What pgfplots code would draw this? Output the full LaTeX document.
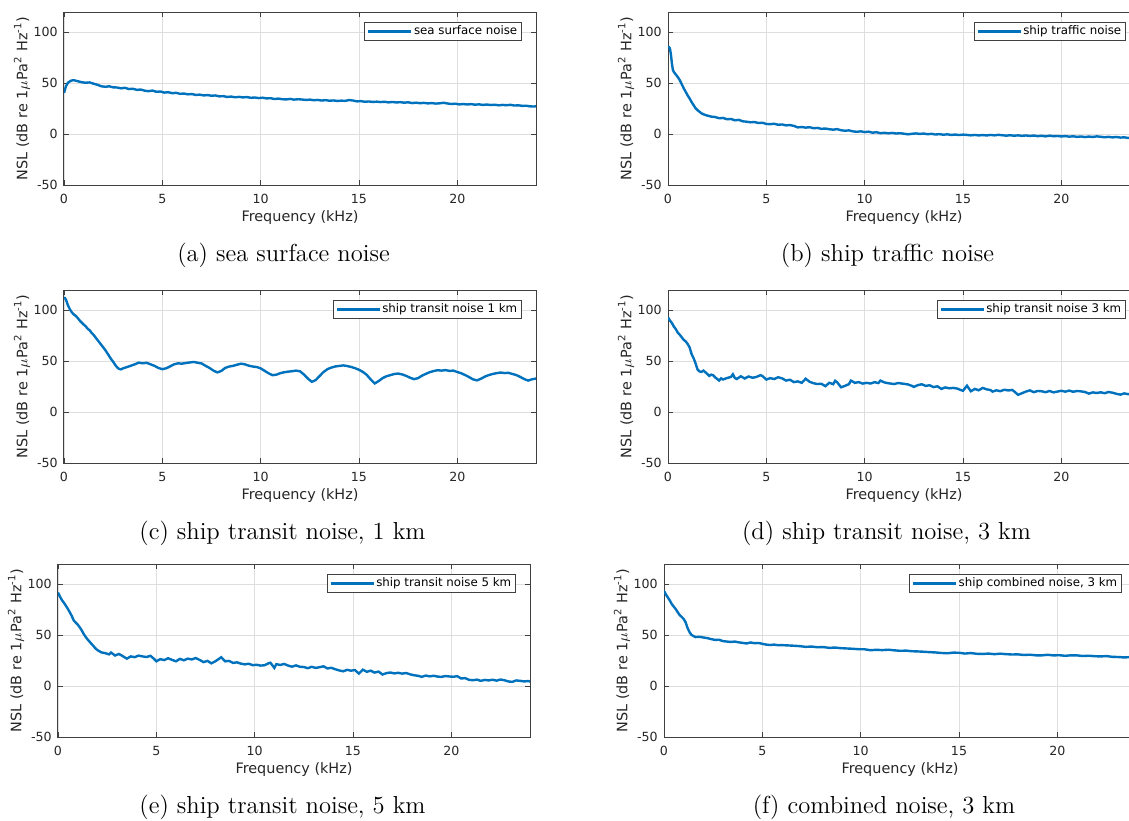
\documentclass[border=0pt]{standalone}
\usepackage{pgfplots}
\pgfplotsset{compat=1.18}
\usepackage{fontspec}
\newfontfamily\axfont{DejaVu Sans}
\definecolor{mblue}{rgb}{0,0.447,0.741}
\definecolor{maxis}{rgb}{0.15,0.15,0.15}
\definecolor{mframe}{rgb}{0.25,0.25,0.25}
\definecolor{mgrid}{rgb}{0.87,0.87,0.87}
\pgfplotsset{
  mstyle/.style={
    scale only axis, width=236pt, height=86.5pt,
    anchor=south west,
    xmin=0, xmax=24, ymin=-50, ymax=120,
    xtick={0,5,10,15,20}, ytick={-50,0,50,100},
    grid=major, major grid style={mgrid, line width=0.4pt},
    axis line style={mframe, line width=0.5pt},
    tick style={mframe, line width=0.45pt},
    tick align=inside, xtick pos=both, ytick pos=both,
    xticklabel pos=lower, yticklabel pos=left,
    major tick length=2.5pt,
    tick label style={font=\axfont\fontsize{6.3}{7}\selectfont, text=maxis},
    /pgf/number format/assume math mode=true,
    xticklabel style={anchor=base, yshift=-9.3pt},
    yticklabel style={anchor=east, inner sep=0pt, xshift=-3pt},
    label style={font=\axfont\fontsize{7.2}{8}\selectfont, text=maxis},
    xlabel={Frequency (kHz)},
    ylabel={NSL (dB re 1$\mu$Pa\textsuperscript{2} Hz\textsuperscript{-1})},
    x label style={at={(axis description cs:0.5,0)}, anchor=base, yshift=-18pt},
    y label style={at={(axis description cs:-0.089,0.5)}, anchor=center},
    legend style={at={(1,1)}, anchor=north east, xshift=-7.2pt, yshift=-5.2pt,
      draw=mframe, line width=0.4pt, fill=white,
      font=\axfont\fontsize{5.9}{6.5}\selectfont, inner xsep=1.2pt, inner ysep=0.6pt,
      nodes={inner sep=0.8pt}},
    legend cell align=left,
    legend image code/.code={\draw[##1, line width=1.2pt] (0pt,0pt) -- (21.5pt,0pt);},
  },
  mline/.style={mblue, line width=1.2pt},
}
\begin{document}
\begin{tikzpicture}
% (a)
\begin{axis}[mstyle, at={(32pt,-92.5pt)}]
\addplot[mline] coordinates {(0,40.5) (0.1,47) (0.2,50.5) (0.35,52.5) (0.5,53) (0.7,52) (0.9,51) (1.1,50.5) (1.3,50.8) (1.5,49.6) (1.7,48.5) (1.9,47) (2.1,46.5) (2.3,47) (2.5,46) (2.7,45.8) (2.9,45) (3.1,45.5) (3.3,44.3) (3.5,44.6) (3.7,43.5) (3.9,43.8) (4.1,42.7) (4.3,42.2) (4.5,42.8) (4.7,41.6) (4.9,41.9) (5.1,40.8) (5.3,41.2) (5.5,40.2) (5.7,40.6) (5.9,39.6) (6.1,39.9) (6.3,39.1) (6.5,39.4) (6.7,38.5) (6.9,38.8) (7.1,38) (7.3,38.4) (7.5,37.7) (7.7,38) (7.9,37.1) (8.1,37.3) (8.3,36.5) (8.5,36.9) (8.7,36.2) (8.9,36.6) (9.1,36.1) (9.3,36.4) (9.5,35.7) (9.7,36) (9.9,35.4) (10.1,35.8) (10.3,35.1) (10.5,35.3) (10.7,34.5) (10.9,34.9) (11.1,34.3) (11.3,34.1) (11.5,34.6) (11.7,33.9) (11.9,34.3) (12.1,34) (12.3,33.6) (12.5,33.9) (12.7,33.3) (12.9,33.6) (13.1,33) (13.3,33.4) (13.5,32.8) (13.7,33.1) (13.9,32.6) (14.1,32.9) (14.3,32.7) (14.5,33.5) (14.7,33) (14.9,32.2) (15.1,32.4) (15.3,31.8) (15.5,32.1) (15.7,31.6) (15.9,31.9) (16.1,31.5) (16.3,31.8) (16.5,31.2) (16.7,31.6) (16.9,31.1) (17.1,31.4) (17.3,30.9) (17.5,31.3) (17.7,30.5) (17.9,30.9) (18.1,30.4) (18.3,30.7) (18.5,30.2) (18.7,30.5) (18.9,30) (19.1,30.3) (19.3,30.8) (19.5,30.1) (19.7,29.6) (19.9,29.9) (20.1,29.2) (20.3,29.6) (20.5,29.1) (20.7,29.5) (20.9,28.9) (21.1,29.3) (21.3,28.7) (21.5,29.1) (21.7,28.6) (21.9,28.9) (22.1,28.3) (22.3,28.7) (22.5,28.4) (22.7,28.8) (22.9,28.1) (23.1,28.3) (23.3,27.8) (23.5,27.9) (23.7,27.3) (23.9,27.1) (24,27.5)};
\addlegendentry{sea surface noise}
\end{axis}
% (b)
\begin{axis}[mstyle, at={(334pt,-92.5pt)}]
\addplot[mline] coordinates {(0,86) (0.05,85.5) (0.1,84) (0.15,78) (0.2,69) (0.25,63) (0.3,61) (0.4,58.5) (0.5,56) (0.6,53) (0.7,49) (0.8,45) (0.9,41.5) (1.0,38) (1.1,35) (1.2,31.5) (1.3,28.5) (1.4,25.5) (1.5,23.5) (1.6,22) (1.7,20.5) (1.8,19.5) (1.9,18.8) (2.0,18.2) (2.2,17.2) (2.4,16.8) (2.6,15.6) (2.8,15.9) (3.0,14.6) (3.2,14.9) (3.4,13.6) (3.6,14) (3.8,12.6) (4.0,12.2) (4.2,11.6) (4.4,11.9) (4.6,10.9) (4.8,11.2) (5.0,10) (5.2,9.8) (5.4,10.2) (5.6,9.2) (5.8,9.5) (6.0,8.6) (6.2,8.9) (6.4,8.1) (6.6,6.6) (6.8,7) (7.0,6.4) (7.2,6.8) (7.4,5.8) (7.6,6.1) (7.8,5.2) (8.0,5.5) (8.2,4.8) (8.4,4.4) (8.6,4.9) (8.8,3.8) (9.0,3.3) (9.2,3.7) (9.4,2.7) (9.6,2.3) (9.8,2.7) (10.0,2) (10.2,2.4) (10.4,1.4) (10.6,1.9) (10.8,0.9) (11.0,1.3) (11.2,0.8) (11.4,1.2) (11.6,0.6) (11.8,0.9) (12.0,0.4) (12.2,-0.2) (12.4,0.3) (12.6,0.7) (12.8,0.2) (13.0,0.6) (13.2,-0.1) (13.4,0.3) (13.6,-0.4) (13.8,0) (14.0,-0.6) (14.2,-0.2) (14.4,-0.8) (14.6,-0.4) (14.8,-0.9) (15.0,-0.5) (15.2,-0.8) (15.4,-1.2) (15.6,-0.8) (15.8,-1.3) (16.0,-0.9) (16.2,-1.3) (16.4,-0.8) (16.6,-1.2) (16.8,-0.7) (17.0,-1.1) (17.2,-1.5) (17.4,-1.1) (17.6,-1.6) (17.8,-1.2) (18.0,-1.7) (18.2,-1.3) (18.4,-1.8) (18.6,-1.4) (18.8,-2) (19.0,-1.6) (19.2,-2.2) (19.4,-1.5) (19.6,-2.1) (19.8,-1.8) (20.0,-2.3) (20.2,-1.9) (20.4,-2.5) (20.6,-2.1) (20.8,-2.7) (21.0,-2.3) (21.2,-2.9) (21.4,-2.4) (21.6,-2.8) (21.8,-2.2) (22.0,-2.6) (22.2,-3.1) (22.4,-2.7) (22.6,-3.2) (22.8,-2.8) (23.0,-3.4) (23.2,-3.1) (23.4,-3.8) (23.6,-3.5) (23.8,-4) (24,-3.8)};
\addlegendentry{ship traffic noise}
\end{axis}
% (c)
\begin{axis}[mstyle, at={(32pt,-231.5pt)}]
\addplot[mline] coordinates {(0,112) (0.05,112) (0.1,110.5) (0.2,105) (0.3,101) (0.4,98) (0.5,96) (0.6,94.5) (0.7,92.5) (0.8,90) (0.9,88) (1.0,86) (1.1,84.5) (1.2,82) (1.3,80.5) (1.4,78) (1.5,76) (1.6,73.5) (1.7,71) (1.8,68.5) (1.9,66) (2.0,63.5) (2.1,61) (2.2,58) (2.3,55) (2.4,52) (2.5,49.5) (2.6,46.5) (2.7,44) (2.8,42.5) (2.9,42) (3.0,43) (3.2,44.3) (3.4,45.6) (3.6,47) (3.8,48.6) (4.0,48) (4.2,48.5) (4.4,47) (4.6,45.5) (4.8,43.4) (5.0,42.2) (5.2,43.1) (5.4,45) (5.6,47) (5.8,48) (6.0,47.6) (6.2,48.3) (6.4,48.8) (6.6,49.3) (6.8,48.5) (7.0,47.8) (7.2,45.5) (7.4,43.4) (7.6,40.8) (7.8,39) (8.0,40.5) (8.2,43.5) (8.4,44.8) (8.6,45.5) (8.8,46.6) (9.0,47.6) (9.2,47) (9.4,45.6) (9.6,44.8) (9.8,44.3) (10.0,43) (10.2,40.6) (10.4,38.2) (10.6,36.3) (10.8,36.8) (11.0,38.3) (11.2,39.2) (11.4,39.8) (11.6,40.2) (11.8,40.8) (12.0,40.1) (12.2,37) (12.4,33) (12.6,29.8) (12.8,31.5) (13.0,35.6) (13.2,39.5) (13.4,42.3) (13.6,43.8) (13.8,44.9) (14.0,45.4) (14.2,45.9) (14.4,45.3) (14.6,44.4) (14.8,43.2) (15.0,41.6) (15.2,39.5) (15.4,36.5) (15.6,32) (15.8,28.2) (16.0,30.5) (16.2,33.4) (16.4,35.3) (16.6,36.4) (16.8,37.5) (17.0,37.9) (17.2,37) (17.4,35.6) (17.6,33.8) (17.8,32.4) (18.0,33.4) (18.2,35.8) (18.4,37.6) (18.6,39.3) (18.8,40.4) (19.0,41.2) (19.2,40.8) (19.4,41.3) (19.6,40.5) (19.8,40.8) (20.0,39.4) (20.2,38.2) (20.4,36.4) (20.6,34.4) (20.8,32.2) (21.0,31.2) (21.2,32.8) (21.4,34.9) (21.6,36.4) (21.8,37.5) (22.0,38.3) (22.2,38.9) (22.4,38.4) (22.6,38.6) (22.8,37.5) (23.0,36.4) (23.2,34.6) (23.4,32.5) (23.6,31) (23.8,32.3) (24,33)};
\addlegendentry{ship transit noise 1 km}
\end{axis}
% (d)
\begin{axis}[mstyle, at={(334pt,-231.5pt)}]
\addplot[mline] coordinates {(0,93) (0.1,90) (0.2,87.5) (0.3,84) (0.4,81.5) (0.5,78) (0.6,76) (0.7,73.5) (0.8,71) (0.9,69.5) (1.0,67) (1.1,63.5) (1.2,57) (1.3,53) (1.4,48) (1.5,42) (1.6,40) (1.7,39.5) (1.8,40.8) (1.9,39.2) (2.0,37.5) (2.1,35.6) (2.2,36.8) (2.3,36.2) (2.4,34.1) (2.5,32.6) (2.6,31) (2.7,33.2) (2.8,32.1) (3.0,33.5) (3.2,34.6) (3.3,37.2) (3.4,33.5) (3.5,32.6) (3.7,35.2) (3.9,33.1) (4.1,35) (4.3,33.8) (4.5,34.6) (4.7,36.3) (4.8,35.5) (5.0,32) (5.2,33.4) (5.4,32.5) (5.6,34.3) (5.8,33.2) (6.0,31) (6.2,31.8) (6.4,29.5) (6.6,30.2) (6.8,28.8) (7.0,32.8) (7.2,29.8) (7.4,28.4) (7.6,27.6) (7.8,27.9) (8.0,25.5) (8.2,28.8) (8.4,27.5) (8.5,30.8) (8.6,29.4) (8.8,24.4) (9.0,25.8) (9.2,27.5) (9.3,31) (9.5,28.8) (9.7,29.5) (9.9,28) (10.1,28.8) (10.3,28.1) (10.5,29.4) (10.7,28.6) (10.8,31) (11.0,29.2) (11.2,28.4) (11.5,27.6) (11.7,28.6) (12.0,27.8) (12.2,27.2) (12.4,25.8) (12.5,24.8) (12.7,26.5) (12.9,27.4) (13.1,25.8) (13.3,26.4) (13.5,24.6) (13.7,25.4) (13.9,22.8) (14.1,24.3) (14.3,23.4) (14.5,23.8) (14.7,23.2) (14.9,21.6) (15.0,21) (15.2,26) (15.4,20.5) (15.6,22.8) (15.8,21.5) (16.0,23.8) (16.2,22.4) (16.4,21.7) (16.5,20.2) (16.7,21.4) (16.9,20.6) (17.1,22) (17.3,21.3) (17.5,21.8) (17.6,20.4) (17.8,17) (18.0,18.6) (18.2,20.2) (18.4,21.4) (18.6,19.6) (18.8,20.8) (19.0,20.5) (19.2,19.6) (19.4,20.8) (19.6,19.4) (19.8,20.2) (20.0,21) (20.2,20.1) (20.4,21.2) (20.6,20) (20.8,20.8) (21.0,20.4) (21.2,19.8) (21.4,18.2) (21.6,19.4) (21.8,18.8) (22.0,19.5) (22.2,18.6) (22.4,19.8) (22.6,19.1) (22.8,18) (23.0,17.2) (23.2,18.4) (23.4,17.6) (23.6,18.3) (23.8,17.5) (24,18)};
\addlegendentry{ship transit noise 3 km}
\end{axis}
% (e)
\begin{axis}[mstyle, at={(29pt,-368.5pt)}]
\addplot[mline] coordinates {(0,92) (0.1,88) (0.2,84.5) (0.3,82) (0.4,79) (0.5,76) (0.6,72.5) (0.7,69) (0.8,64.5) (0.9,62.5) (1.0,60.5) (1.1,58) (1.2,55) (1.3,51.5) (1.4,48.5) (1.5,46) (1.6,43.8) (1.7,41.6) (1.8,39.5) (1.9,37.2) (2.0,35.5) (2.2,33.2) (2.4,32.4) (2.6,31.2) (2.7,33) (2.9,30.1) (3.1,31.6) (3.3,29.4) (3.5,27) (3.7,29.2) (3.9,28.5) (4.1,30) (4.3,29.2) (4.5,28.6) (4.7,29.8) (4.9,26.5) (5.0,24.4) (5.2,26.5) (5.4,25.6) (5.6,27.4) (5.8,25.8) (6.0,24.4) (6.2,26.8) (6.4,25.4) (6.6,27) (6.8,26.2) (7.0,27.6) (7.2,25.8) (7.4,23.6) (7.6,24.8) (7.8,22.4) (8.0,24.4) (8.2,27) (8.3,28.4) (8.5,24.4) (8.7,24.8) (8.9,22.8) (9.1,23.4) (9.3,22.1) (9.5,21.4) (9.7,22) (9.9,20.6) (10.1,21) (10.3,20.2) (10.5,20.5) (10.7,22.4) (10.8,23) (10.9,20.5) (11.0,17.9) (11.1,21.6) (11.3,20.8) (11.5,21.8) (11.7,20.2) (11.9,19.1) (12.1,20.4) (12.3,19) (12.5,18.8) (12.7,17.6) (12.9,19) (13.1,17.9) (13.3,18.6) (13.5,19.5) (13.7,17.4) (13.9,18) (14.1,16.6) (14.3,15.4) (14.5,14.6) (14.7,16) (14.9,15.2) (15.1,15.8) (15.3,12.3) (15.5,16.2) (15.7,14.1) (15.9,15.2) (16.1,13.3) (16.3,14.3) (16.5,11.4) (16.7,12.8) (16.9,13.4) (17.1,12.5) (17.3,13.1) (17.5,12.3) (17.7,12.9) (17.9,11.6) (18.1,10.7) (18.3,10.2) (18.5,9.1) (18.7,10.4) (18.9,9.6) (19.1,10.2) (19.3,9.4) (19.5,9.1) (19.7,9.9) (19.9,9.5) (20.1,9.2) (20.3,9.8) (20.5,7.5) (20.7,7.9) (20.9,6.2) (21.1,5.8) (21.3,6.4) (21.5,5.2) (21.7,6.1) (21.9,5.6) (22.1,6.3) (22.3,5.4) (22.5,6.5) (22.7,5.8) (22.9,4.6) (23.1,4.2) (23.3,5.6) (23.5,5.2) (23.7,4.6) (23.9,5) (24,4.6)};
\addlegendentry{ship transit noise 5 km}
\end{axis}
% (f)
\begin{axis}[mstyle, at={(332pt,-368.5pt)}]
\addplot[mline] coordinates {(0,93.5) (0.1,90) (0.2,87) (0.3,84) (0.4,80.5) (0.5,78) (0.6,75.6) (0.7,72.5) (0.8,69.8) (0.9,68) (1.0,66) (1.1,62.7) (1.2,57) (1.3,53) (1.4,50.3) (1.5,49.2) (1.6,48.2) (1.8,48.5) (2.0,47.8) (2.2,47.2) (2.4,46.2) (2.6,45.4) (2.8,45.6) (3.0,44.2) (3.2,43.8) (3.4,43.4) (3.6,43.8) (3.8,43) (4.0,42.5) (4.2,41.9) (4.4,42.9) (4.6,42.2) (4.8,42.4) (5.0,41.6) (5.2,40.8) (5.4,40.4) (5.6,40.8) (5.8,40.2) (6.0,40.3) (6.3,40) (6.6,39.7) (6.9,39.3) (7.2,38.6) (7.5,38.9) (7.8,38.2) (8.1,38.4) (8.4,37.6) (8.7,37.9) (9.0,37.3) (9.3,37) (9.6,36.7) (9.9,36.3) (10.2,36.2) (10.5,35.3) (10.8,35.7) (11.1,35.4) (11.4,35.8) (11.7,35.2) (12.0,34.7) (12.3,34.9) (12.6,34.3) (12.9,34.1) (13.2,33.8) (13.5,33.4) (13.8,33.1) (14.1,32.6) (14.4,32.3) (14.7,32.9) (15.0,32.8) (15.3,32) (15.6,32.5) (15.9,31.8) (16.2,31.6) (16.5,32) (16.8,31.4) (17.1,31.9) (17.4,31.4) (17.7,31.1) (18.0,31.2) (18.3,30.6) (18.6,30.9) (18.9,30.3) (19.2,30.2) (19.5,30.8) (19.8,30.2) (20.1,30.4) (20.4,29.8) (20.7,30.3) (21.0,30.2) (21.3,29.6) (21.6,29.9) (21.9,29.4) (22.2,29.2) (22.5,29.5) (22.8,28.8) (23.1,28.6) (23.4,28.2) (23.7,28.5) (24,28)};
\addlegendentry{ship combined noise, 3 km}
\end{axis}
\begin{scope}[every node/.style={anchor=base, font=\fontsize{12.3}{14}\selectfont, inner sep=0pt}]
\node at (141.75pt,-130.5pt) {(a) sea surface noise};
\node at (443.75pt,-130.5pt) {(b) ship traffic noise};
\node at (141.25pt,-269.5pt) {(c) ship transit noise, 1 km};
\node at (443.25pt,-269.5pt) {(d) ship transit noise, 3 km};
\node at (141.25pt,-406.5pt) {(e) ship transit noise, 5 km};
\node at (442pt,-406.5pt) {(f) combined noise, 3 km};
\end{scope}
\pgfresetboundingbox
\path[use as bounding box] (0pt,0pt) rectangle (564.5pt,-410pt);
\end{tikzpicture}
\end{document}
